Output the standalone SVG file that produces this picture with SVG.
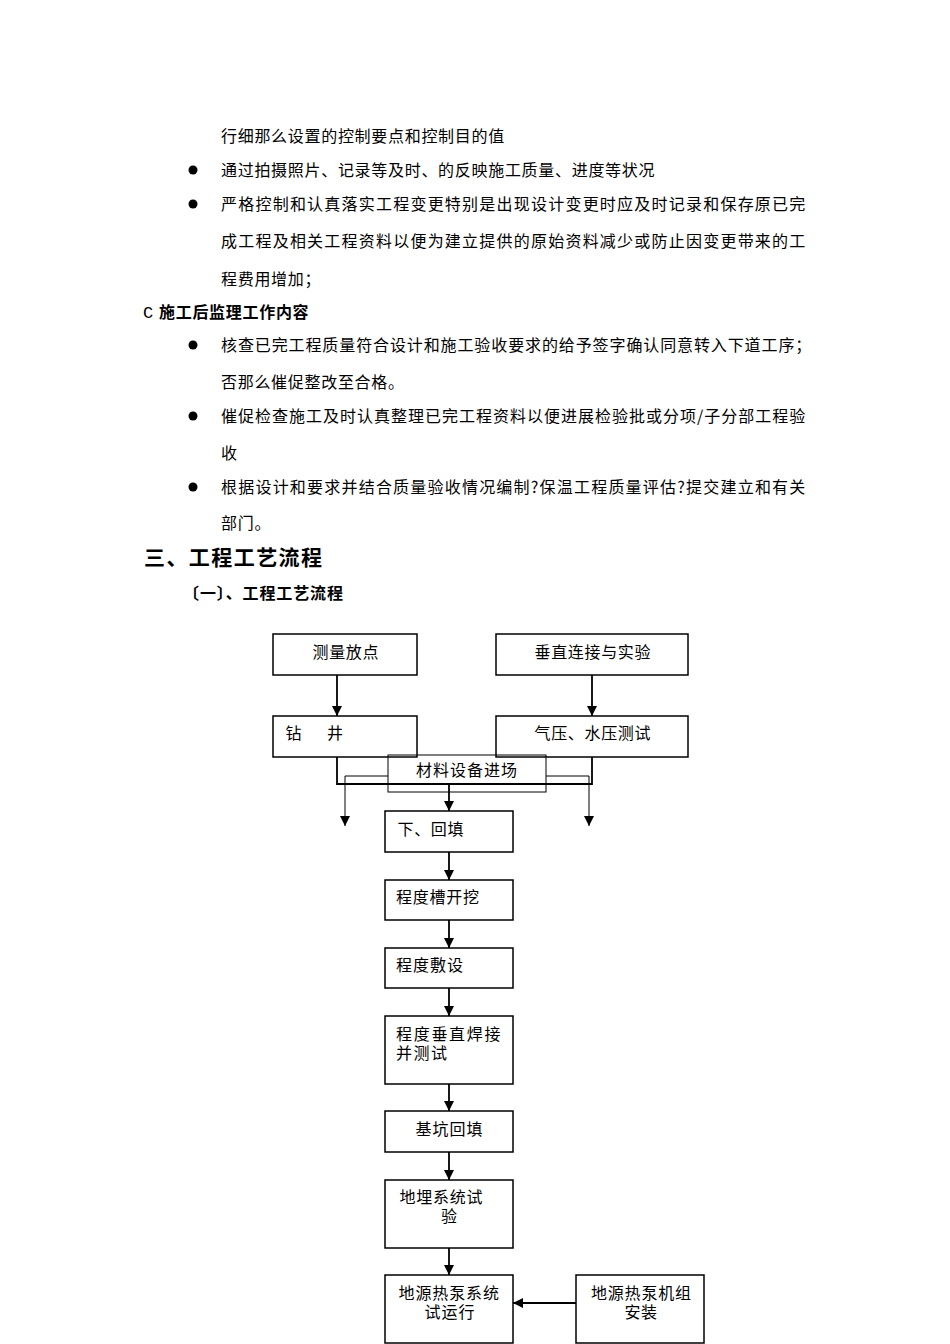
<svg xmlns="http://www.w3.org/2000/svg" width="950" height="1344" viewBox="0 0 950 1344">
<defs>
<style>
.t{font-family:"Noto Sans CJK SC",sans-serif;font-size:16px;fill:#000;letter-spacing:0.7px}
.b{font-weight:bold}
.n{font-family:"Noto Sans CJK SC",sans-serif;font-size:16px;fill:#000}
.h{font-family:"Noto Sans CJK SC",sans-serif;font-size:21px;font-weight:bold;fill:#000}
.box{fill:none;stroke:#000;stroke-width:1.5}
.thinbox{fill:none;stroke:#000;stroke-width:1}
.c{fill:none;stroke:#000;stroke-width:1.8}
.ct{fill:none;stroke:#000;stroke-width:1}
</style>
<marker id="ah" markerUnits="userSpaceOnUse" markerWidth="10" markerHeight="10" refX="10" refY="5" orient="auto" viewBox="0 0 10 10">
<path d="M0,0 L10,5 L0,10 z" fill="#000"/>
</marker>
</defs>
<rect width="950" height="1344" fill="#fff"/>

<g id="text">
<text class="t" x="221" y="141.5">行细那么设置的控制要点和控制目的值</text>
<circle cx="193" cy="170" r="4.5"/>
<text class="t" x="221" y="175.5">通过拍摄照片、记录等及时、的反映施工质量、进度等状况</text>
<circle cx="193" cy="204" r="4.5"/>
<text class="t" x="221" y="209.5" textLength="585" lengthAdjust="spacing">严格控制和认真落实工程变更特别是出现设计变更时应及时记录和保存原已完</text>
<text class="t" x="221" y="246.5" textLength="585" lengthAdjust="spacing">成工程及相关工程资料以便为建立提供的原始资料减少或防止因变更带来的工</text>
<text class="t" x="221" y="284.5">程费用增加；</text>
<text class="t b" x="143" y="317.5"><tspan font-family="Liberation Mono" font-weight="normal" font-size="17">C</tspan><tspan x="159">施工后监理工作内容</tspan></text>
<circle cx="193" cy="345" r="4.5"/>
<text class="t" x="221" y="350.5" textLength="591" lengthAdjust="spacing">核查已完工程质量符合设计和施工验收要求的给予签字确认同意转入下道工序；</text>
<text class="t" x="221" y="387.5">否那么催促整改至合格。</text>
<circle cx="193" cy="416" r="4.5"/>
<text class="t" x="221" y="421.5" textLength="585" lengthAdjust="spacing">催促检查施工及时认真整理已完工程资料以便进展检验批或分项/子分部工程验</text>
<text class="t" x="221" y="458.5">收</text>
<circle cx="193" cy="487" r="4.5"/>
<text class="t" x="221" y="492.5" textLength="585" lengthAdjust="spacing">根据设计和要求并结合质量验收情况编制?保温工程质量评估?提交建立和有关</text>
<text class="t" x="221" y="528.5">部门。</text>
<text class="h" x="144" y="565" textLength="178" lengthAdjust="spacing">三、工程工艺流程</text>
<text class="n b" x="183" y="599" textLength="160" lengthAdjust="spacing">〔一〕、工程工艺流程</text>
</g>

<g id="connectors">
<line class="c" x1="337" y1="675" x2="337" y2="716" marker-end="url(#ah)"/>
<line class="c" x1="592" y1="675" x2="592" y2="716" marker-end="url(#ah)"/>
<polyline class="c" points="337,757 337,784 592,784 592,757"/>
<line class="c" x1="449" y1="784" x2="449" y2="811" marker-end="url(#ah)"/>
<polyline class="ct" points="388,776 345,776 345,826" marker-end="url(#ah)"/>
<polyline class="ct" points="546,776 589,776 589,826" marker-end="url(#ah)"/>
<line class="c" x1="449" y1="852" x2="449" y2="880" marker-end="url(#ah)"/>
<line class="c" x1="449" y1="920" x2="449" y2="948" marker-end="url(#ah)"/>
<line class="c" x1="449" y1="988" x2="449" y2="1016" marker-end="url(#ah)"/>
<line class="c" x1="449" y1="1084" x2="449" y2="1111" marker-end="url(#ah)"/>
<line class="c" x1="449" y1="1152" x2="449" y2="1180" marker-end="url(#ah)"/>
<line class="c" x1="449" y1="1248" x2="449" y2="1275" marker-end="url(#ah)"/>
<line class="c" x1="576" y1="1303" x2="513" y2="1303" marker-end="url(#ah)"/>
</g>

<g id="n1"><rect class="box" x="273" y="634" width="144" height="41"/><text class="n" x="312.5" y="657.5" textLength="66" lengthAdjust="spacing">测量放点</text></g>
<g id="n2"><rect class="box" x="496" y="634" width="192" height="41"/><text class="n" x="534.5" y="657.5" textLength="116" lengthAdjust="spacing">垂直连接与实验</text></g>
<g id="n3"><rect class="box" x="273" y="716" width="144" height="41"/><text class="n" x="285.5" y="738.5"><tspan>钻</tspan><tspan x="327">井</tspan></text></g>
<g id="n4"><rect class="box" x="496" y="716" width="192" height="41"/><text class="n" x="534.5" y="738.5" textLength="116" lengthAdjust="spacing">气压、水压测试</text></g>
<g id="n5"><rect class="thinbox" x="388" y="755" width="158" height="37"/><text class="n" x="416" y="776" textLength="101" lengthAdjust="spacing">材料设备进场</text></g>
<g id="n6"><rect class="box" x="385" y="811" width="128" height="41"/><text class="n" x="397.5" y="834.5" textLength="66" lengthAdjust="spacing">下、回填</text></g>
<g id="n7"><rect class="box" x="385" y="880" width="128" height="40"/><text class="n" x="396" y="902.5" textLength="83" lengthAdjust="spacing">程度槽开挖</text></g>
<g id="n8"><rect class="box" x="385" y="948" width="128" height="40"/><text class="n" x="396" y="971" textLength="67" lengthAdjust="spacing">程度敷设</text></g>
<g id="n9"><rect class="box" x="385" y="1016" width="128" height="68"/><text class="n"><tspan x="396" y="1039.5" textLength="104.5" lengthAdjust="spacing">程度垂直焊接</tspan><tspan x="396" y="1058.5" textLength="51" lengthAdjust="spacing">并测试</tspan></text></g>
<g id="n10"><rect class="box" x="385" y="1111" width="128" height="41"/><text class="n" x="415.5" y="1134.5" textLength="67" lengthAdjust="spacing">基坑回填</text></g>
<g id="n11"><rect class="box" x="385" y="1180" width="128" height="68"/><text class="n"><tspan x="399.5" y="1202.5" textLength="83" lengthAdjust="spacing">地埋系统试</tspan><tspan x="441" y="1222">验</tspan></text></g>
<g id="n12"><rect class="box" x="385" y="1275" width="128" height="68"/><text class="n"><tspan x="398.5" y="1298.5" textLength="100.5" lengthAdjust="spacing">地源热泵系统</tspan><tspan x="424.5" y="1317.5" textLength="50" lengthAdjust="spacing">试运行</tspan></text></g>
<g id="n13"><rect class="box" x="576" y="1275" width="128" height="68"/><text class="n"><tspan x="591" y="1298.5" textLength="100" lengthAdjust="spacing">地源热泵机组</tspan><tspan x="624.5" y="1317.5" textLength="32.5" lengthAdjust="spacing">安装</tspan></text></g>
</svg>
